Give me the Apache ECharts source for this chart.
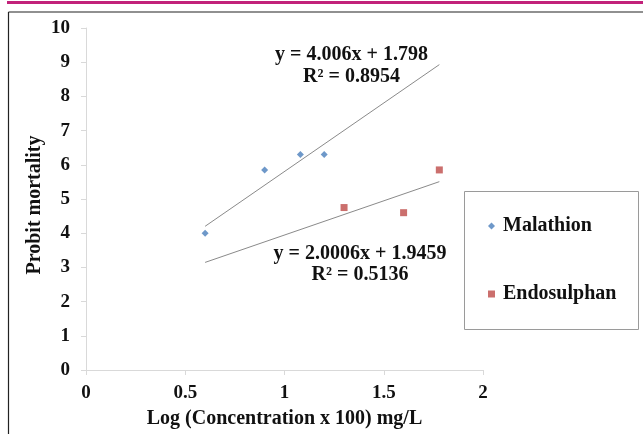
<!DOCTYPE html>
<html>
<head>
<meta charset="utf-8">
<script src="https://cdn.jsdelivr.net/npm/echarts@6/dist/echarts.min.js"></script>
<style>html,body{margin:0;padding:0;background:#fff;}#c{width:643px;height:434px;}</style>
</head>
<body>
<div id="c"></div>
<script>
// Data
const malathionX = [0.6, 0.9, 1.08, 1.2];
const malathionY = [4.0, 5.85, 6.3, 6.3];
const endosulphanX = [1.3, 1.6, 1.78];
const endosulphanY = [4.75, 4.6, 5.85];
// Trendlines (as given by the chart's equations)
const malathionFit = {slope: 4.006, intercept: 1.798, r2: '0.8954'};
const endosulphanFit = {slope: 2.0006, intercept: 1.9459, r2: '0.5136'};
const trendRange = [0.6, 1.78];
const xTicks = ['0', '0.5', '1', '1.5', '2'];
const yTicks = ['0','1','2','3','4','5','6','7','8','9','10'];

const FONT = '"Liberation Serif", "Times New Roman", serif';
const zip = (xs, ys) => xs.map((x, i) => [x, ys[i]]);
const fitLine = f => trendRange.map(x => [x, f.slope * x + f.intercept]);

const chart = echarts.init(document.getElementById('c'), null, {renderer: 'canvas'});
chart.setOption({
  animation: false,
  backgroundColor: '#fff',
  grid: {left: 86, right: 160, top: 28, bottom: 63.5},
  xAxis: {
    type: 'value', min: 0, max: 2, interval: 0.5,
    name: 'Log (Concentration x 100) mg/L', nameLocation: 'middle', nameGap: 39, nameMoveOverlap: false,
    nameTextStyle: {fontFamily: FONT, fontWeight: 'bold', fontSize: 20, color: '#111'},
    axisLine: {show: true, lineStyle: {color: '#d9d9d9', width: 1}},
    axisTick: {show: true, length: 5, lineStyle: {color: '#d9d9d9'}},
    splitLine: {show: false},
    axisLabel: {margin: 14, fontFamily: FONT, fontWeight: 'bold', fontSize: 19, color: '#111',
      formatter: v => xTicks[Math.round(v / 0.5)]}
  },
  yAxis: {
    type: 'value', min: 0, max: 10, interval: 1,
    name: 'Probit mortality', nameLocation: 'middle', nameGap: 41, nameMoveOverlap: false,
    nameTextStyle: {fontFamily: FONT, fontWeight: 'bold', fontSize: 20, color: '#111', padding: [0, 12, 0, 0]},
    axisLine: {show: true, lineStyle: {color: '#d9d9d9', width: 1}},
    axisTick: {show: true, length: 5, lineStyle: {color: '#d9d9d9'}},
    splitLine: {show: false},
    axisLabel: {margin: 16, fontFamily: FONT, fontWeight: 'bold', fontSize: 19, color: '#111',
      formatter: v => yTicks[Math.round(v)]}
  },
  legend: {
    orient: 'vertical', left: 483, top: 211, itemGap: 48,
    itemWidth: 7, itemHeight: 7,
    data: [{name: 'Malathion', icon: 'diamond'}, {name: 'Endosulphan', icon: 'rect'}],
    textStyle: {fontFamily: FONT, fontWeight: 'bold', fontSize: 20, lineHeight: 20, color: '#111', padding: [0, 0, 0, 3]}
  },
  series: [
    {name: 'Malathion trend', type: 'line', data: fitLine(malathionFit), symbol: 'none',
      lineStyle: {color: '#8a8a8a', width: 1}, silent: true, z: 1},
    {name: 'Endosulphan trend', type: 'line', data: fitLine(endosulphanFit), symbol: 'none',
      lineStyle: {color: '#8a8a8a', width: 1}, silent: true, z: 1},
    {name: 'Malathion', type: 'scatter', symbol: 'diamond', symbolSize: 7,
      itemStyle: {color: '#4a7ebb'}, data: zip(malathionX, malathionY), z: 3},
    {name: 'Endosulphan', type: 'scatter', symbol: 'rect', symbolSize: 7,
      itemStyle: {color: '#be4b48'}, data: zip(endosulphanX, endosulphanY), z: 3}
  ],
  graphic: [
    {type: 'rect', left: 7, top: 1, shape: {width: 636, height: 3}, style: {fill: '#c2227a'}},
    {type: 'line', shape: {x1: 8.5, y1: 12, x2: 643, y2: 12}, style: {stroke: '#222', lineWidth: 1.2}},
    {type: 'line', shape: {x1: 8.5, y1: 12, x2: 8.5, y2: 434}, style: {stroke: '#222', lineWidth: 1.2}},
    {type: 'rect', shape: {x: 464.5, y: 191.5, width: 174, height: 138}, style: {fill: 'none', stroke: '#9a9a9a', lineWidth: 1}},
    {type: 'text', x: 351.5, y: 55, style: {text: 'y = ' + malathionFit.slope.toFixed(3) + 'x + ' + malathionFit.intercept.toFixed(3),
      font: 'bold 20px ' + FONT, fill: '#111', align: 'center', verticalAlign: 'middle'}},
    {type: 'text', x: 351.5, y: 77, style: {text: 'R² = ' + malathionFit.r2,
      font: 'bold 20px ' + FONT, fill: '#111', align: 'center', verticalAlign: 'middle'}},
    {type: 'text', x: 360, y: 254, style: {text: 'y = ' + endosulphanFit.slope.toFixed(4) + 'x + ' + endosulphanFit.intercept.toFixed(4),
      font: 'bold 20px ' + FONT, fill: '#111', align: 'center', verticalAlign: 'middle'}},
    {type: 'text', x: 360, y: 275, style: {text: 'R² = ' + endosulphanFit.r2,
      font: 'bold 20px ' + FONT, fill: '#111', align: 'center', verticalAlign: 'middle'}}
  ]
});
</script>
</body>
</html>
